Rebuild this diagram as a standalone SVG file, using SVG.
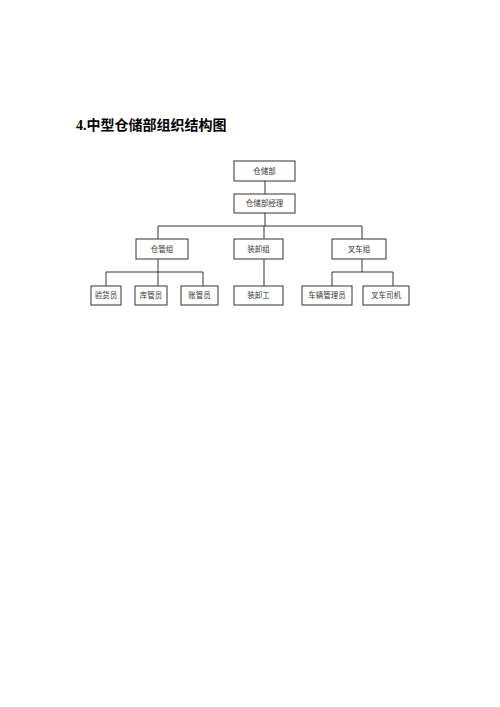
<svg xmlns="http://www.w3.org/2000/svg" width="500" height="707" viewBox="0 0 500 707">
<style>
.box{fill:#fff;stroke:#333;stroke-width:1}
.lbl{font-family:"Liberation Serif","Noto Sans CJK SC",serif;font-size:7.5px;fill:#333;text-anchor:middle;dominant-baseline:central}
.ttl{font-family:"Liberation Serif","Noto Sans CJK SC",serif;font-size:14px;font-weight:bold;fill:#000}
#connectors path{fill:none;stroke:#333;stroke-width:1}
</style>
<rect width="500" height="707" fill="#fff"/>
<text class="ttl" x="76" y="130">4.中型仓储部组织结构图</text>
<g id="connectors">
<path d="M265 181V194M265 213V226M158 226H362M158 226V239M264 226V239M362 226V239"/>
<path d="M158 259V272M106 272H203M106 272V286M158 272V286M203 272V286"/>
<path d="M264 259V286"/>
<path d="M362 259V272M332 272H393M332 272V286M393 272V286"/>
</g>
<g id="n1"><rect class="box" x="234" y="161" width="61" height="20"/><text class="lbl" x="264.5" y="171">仓储部</text></g>
<g id="n2"><rect class="box" x="234" y="194" width="61" height="19"/><text class="lbl" x="264.5" y="203.5">仓储部经理</text></g>
<g id="n3"><rect class="box" x="136" y="239" width="52" height="20"/><text class="lbl" x="162" y="249">仓管组</text></g>
<g id="n4"><rect class="box" x="234" y="239" width="49" height="20"/><text class="lbl" x="258.5" y="249">装卸组</text></g>
<g id="n5"><rect class="box" x="332" y="239" width="54" height="20"/><text class="lbl" x="359" y="249">叉车组</text></g>
<g id="n6"><rect class="box" x="91" y="286" width="30" height="19"/><text class="lbl" x="106" y="295.5">验货员</text></g>
<g id="n7"><rect class="box" x="135" y="286" width="32" height="19"/><text class="lbl" x="151" y="295.5">库管员</text></g>
<g id="n8"><rect class="box" x="181" y="286" width="37" height="19"/><text class="lbl" x="199.5" y="295.5">账管员</text></g>
<g id="n9"><rect class="box" x="234" y="286" width="49" height="19"/><text class="lbl" x="258.5" y="295.5">装卸工</text></g>
<g id="n10"><rect class="box" x="302" y="286" width="50" height="19"/><text class="lbl" x="327" y="295.5">车辆管理员</text></g>
<g id="n11"><rect class="box" x="363" y="286" width="46" height="19"/><text class="lbl" x="386" y="295.5">叉车司机</text></g>
</svg>
